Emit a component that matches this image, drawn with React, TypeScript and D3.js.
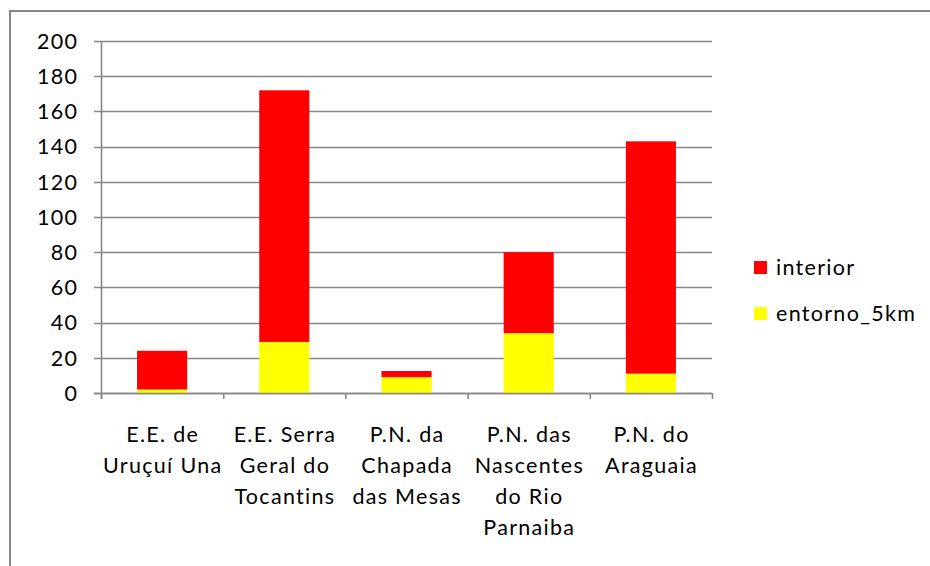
import * as React from 'react';
import * as d3 from 'd3';

const categories = [
    "E.E. de\nUruçuí Una",
    "E.E. Serra\nGeral do\nTocantins",
    "P.N. da\nChapada\ndas Mesas",
    "P.N. das\nNascentes\ndo Rio\nParnaiba",
    "P.N. do\nAraguaia"
];
const entorno5km = [2, 29, 9, 34, 11];
const interior = [22, 143, 3.5, 46, 132];
const yTicks = [0, 20, 40, 60, 80, 100, 120, 140, 160, 180, 200];

const seriesNames = ["entorno_5km", "interior"];
const seriesColors: Record<string, string> = { entorno_5km: "#ffff00", interior: "#ff0000" };

const App: React.FC = () => {
    const ref = React.useRef<SVGSVGElement>(null);

    React.useEffect(() => {
        const svg = d3.select(ref.current);
        svg.selectAll("*").remove();

        const font = "Lato, 'Open Sans', sans-serif";
        const fontSize = 21.5;
        const spacing = 1.3;
        const grey = "#868686";

        const left = 101, right = 712, top = 41, bottom = 393;

        const x = d3.scaleBand<string>()
            .domain(categories)
            .range([left, right])
            .paddingInner(0.59)
            .paddingOuter(0.295);
        const step = x.step();

        const y = d3.scaleLinear().domain([0, 200]).range([bottom, top]);

        // frame
        svg.append("rect")
            .attr("x", 10).attr("y", 11)
            .attr("width", 960).attr("height", 600)
            .attr("fill", "none")
            .attr("stroke", grey)
            .attr("stroke-width", 2);

        // gridlines + y ticks
        svg.append("g").selectAll("line")
            .data(yTicks)
            .enter().append("line")
                .attr("x1", left - 7).attr("x2", right)
                .attr("y1", d => Math.round(y(d)) + 0.5)
                .attr("y2", d => Math.round(y(d)) + 0.5)
                .attr("stroke", grey)
                .attr("stroke-width", 1.6);

        svg.append("g").selectAll("text")
            .data(yTicks)
            .enter().append("text")
                .attr("x", 77 + spacing)
                .attr("y", d => y(d))
                .attr("dy", "0.36em")
                .attr("text-anchor", "end")
                .attr("font-family", font)
                .attr("font-size", fontSize)
                .attr("letter-spacing", spacing)
                .attr("fill", "#000")
                .text(d => d);

        // stacked bars
        const rows = categories.map((c, i) => ({ cat: c, entorno_5km: entorno5km[i], interior: interior[i] }));
        const stacked = d3.stack<any>().keys(seriesNames)(rows);

        svg.append("g").selectAll("g")
            .data(stacked)
            .enter().append("g")
                .attr("fill", d => seriesColors[d.key])
            .selectAll("rect")
            .data(d => d)
            .enter().append("rect")
                .attr("x", d => x(d.data.cat)!)
                .attr("width", x.bandwidth())
                .attr("y", d => y(d[1]))
                .attr("height", d => y(d[0]) - y(d[1]));

        // axes lines
        svg.append("line")
            .attr("x1", left + 0.5).attr("x2", left + 0.5)
            .attr("y1", top).attr("y2", bottom + 6)
            .attr("stroke", grey).attr("stroke-width", 1.6);
        svg.append("line")
            .attr("x1", left - 7).attr("x2", right)
            .attr("y1", bottom + 0.5).attr("y2", bottom + 0.5)
            .attr("stroke", grey).attr("stroke-width", 1.6);

        svg.append("g").selectAll("line")
            .data(d3.range(categories.length + 1))
            .enter().append("line")
                .attr("x1", i => left + i * step + 0.5)
                .attr("x2", i => left + i * step + 0.5)
                .attr("y1", bottom).attr("y2", bottom + 6)
                .attr("stroke", grey).attr("stroke-width", 1.6);

        // category labels
        const lbl = svg.append("g").selectAll("text")
            .data(categories)
            .enter().append("text")
                .attr("text-anchor", "middle")
                .attr("font-family", font)
                .attr("font-size", fontSize)
                .attr("letter-spacing", spacing)
                .attr("fill", "#000");
        lbl.selectAll("tspan")
            .data(d => d.split("\n").map(t => ({ t, c: d })))
            .enter().append("tspan")
                .attr("x", d => x(d.c)! + x.bandwidth() / 2 + spacing / 2)
                .attr("y", (d, i) => 442 + i * 31)
                .text(d => d.t);

        // legend
        const legend = svg.append("g").selectAll("g")
            .data(["interior", "entorno_5km"])
            .enter().append("g")
                .attr("transform", (d, i) => `translate(754, ${261 + i * 46})`);
        legend.append("rect")
            .attr("width", 13).attr("height", 13)
            .attr("fill", d => seriesColors[d]);
        legend.append("text")
            .attr("x", 22).attr("y", 6.5).attr("dy", "0.36em")
            .attr("font-family", font)
            .attr("font-size", fontSize)
            .attr("letter-spacing", spacing)
            .attr("fill", "#000")
            .text(d => d);
    });

    return (
        <svg ref={ref} width={930} height={566}
            style={{ position: "absolute", left: 0, top: 0, background: "#fff" }} />
    );
};

export default App;
